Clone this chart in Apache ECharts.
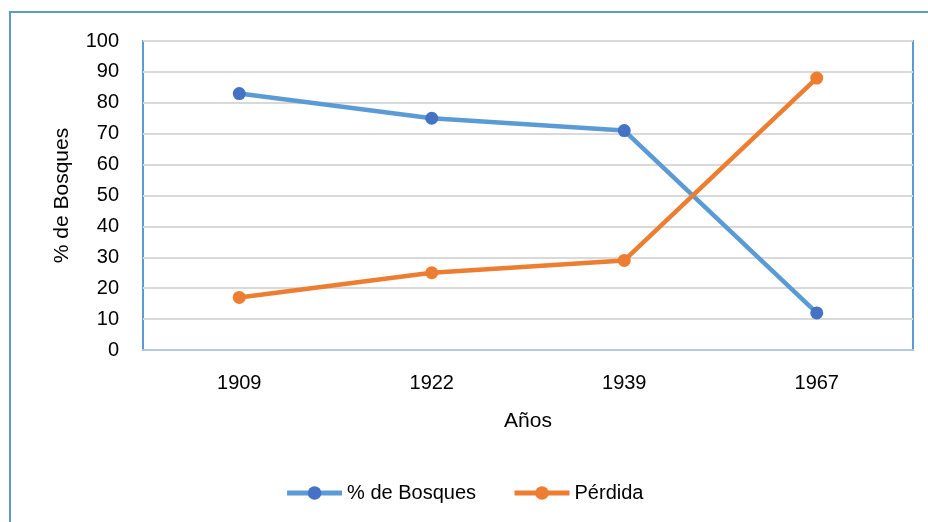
<!DOCTYPE html>
<html><head><meta charset="utf-8">
<script src="https://cdn.jsdelivr.net/npm/echarts@6/dist/echarts.min.js"></script>
<style>html,body{margin:0;padding:0;background:#fff}#c{width:928px;height:522px}</style>
</head><body><div id="c"></div>
<script>
const categories = ['1909', '1922', '1939', '1967'];
const bosques = [83, 75, 71, 12];
const perdida = [17, 25, 29, 88];
const yTicks = [0, 10, 20, 30, 40, 50, 60, 70, 80, 90, 100];

const FONT = '"Liberation Sans", "DejaVu Sans", sans-serif';
const chart = echarts.init(document.getElementById('c'));
chart.setOption({
  animation: false,
  textStyle: { fontFamily: FONT },
  graphic: [{
    type: 'rect', shape: { x: 10, y: 12, width: 940, height: 530 },
    style: { fill: 'none', stroke: '#5B9BD5', lineWidth: 2 }, silent: true, z: -1
  }],
  grid: { left: 143, right: 15, top: 41, bottom: 172, show: true, borderColor: '#5B9BD5', borderWidth: 2, backgroundColor: 'transparent' },
  legend: {
    bottom: 14, left: 'center', itemWidth: 55, itemHeight: 17, itemGap: 36,
    lineStyle: { width: 5 },
    textStyle: { fontSize: 20, color: '#000', fontFamily: FONT },
    data: ['% de Bosques', 'Pérdida']
  },
  xAxis: {
    type: 'category', data: categories, boundaryGap: true,
    name: 'Años', nameLocation: 'middle', nameGap: 61,
    nameTextStyle: { fontSize: 21, color: '#000' },
    axisLine: { show: true, lineStyle: { color: '#B4C7E7', width: 2 } },
    axisTick: { show: false },
    axisLabel: { fontSize: 20, color: '#000', margin: 23 }
  },
  yAxis: {
    type: 'value', min: yTicks[0], max: yTicks[yTicks.length - 1], interval: 10,
    name: '% de Bosques', nameLocation: 'middle', nameGap: 70, nameRotate: 90,
    nameTextStyle: { fontSize: 21, color: '#000' },
    axisLine: { show: false }, axisTick: { show: false },
    axisLabel: { fontSize: 20, color: '#000', margin: 24 },
    splitLine: { lineStyle: { color: '#D9D9D9', width: 2 } }
  },
  series: [
    { name: '% de Bosques', type: 'line', data: bosques, symbol: 'circle', symbolSize: 13,
      lineStyle: { color: '#5B9BD5', width: 4.5 }, itemStyle: { color: '#4472C4' } },
    { name: 'Pérdida', type: 'line', data: perdida, symbol: 'circle', symbolSize: 13,
      lineStyle: { color: '#ED7D31', width: 4.5 }, itemStyle: { color: '#ED7D31' } }
  ]
});
</script></body></html>
